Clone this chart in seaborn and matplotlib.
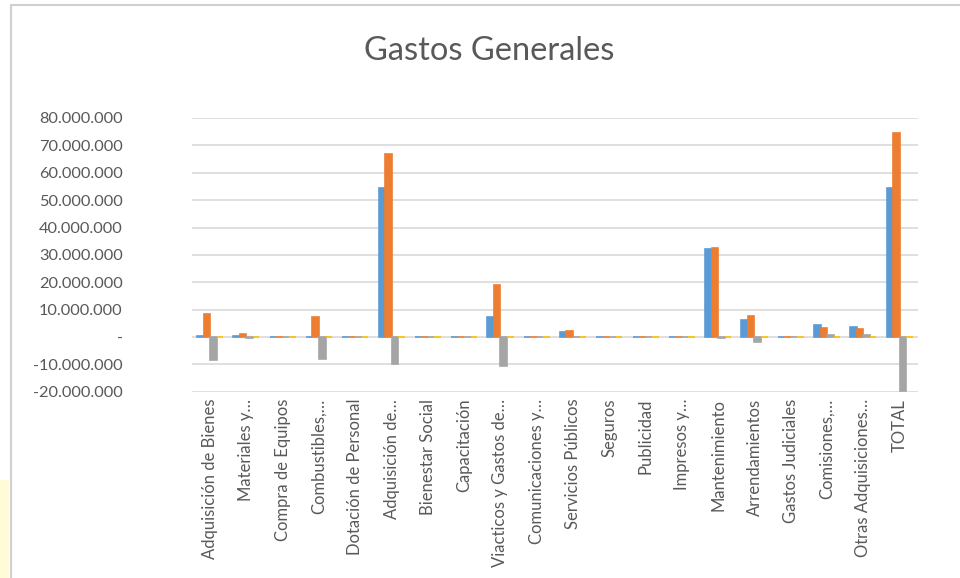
import pandas as pd
import numpy as np
import matplotlib
matplotlib.use('Agg')
import matplotlib.pyplot as plt
import matplotlib.ticker as mticker
from matplotlib.lines import Line2D
from matplotlib.patches import Rectangle
import seaborn as sns

# Categories and the four series (values in pesos)
categorias = ['Adquisición de Bienes', 'Materiales y…', 'Compra de Equipos',
              'Combustibles,…', 'Dotación de Personal', 'Adquisición de…',
              'Bienestar Social', 'Capacitación', 'Viacticos y Gastos de…',
              'Comunicaciones y…', 'Servicios Públicos', 'Seguros', 'Publicidad',
              'Impresos y…', 'Mantenimiento', 'Arrendamientos', 'Gastos Judiciales',
              'Comisiones,…', 'Otras Adquisiciones…', 'TOTAL']

serie_1 = [300000, 500000, 0, 200000, 0, 54500000, 0, 0, 7500000, 0,
           1700000, 0, 0, 0, 32000000, 6200000, 0, 4500000, 3700000, 54500000]
serie_2 = [8300000, 1200000, 0, 7200000, 0, 67000000, 0, 0, 19000000, 0,
           2200000, 0, 0, 0, 32700000, 7700000, 0, 3500000, 2900000, 74500000]
serie_3 = [-8500000, -300000, 0, -8000000, 0, -10000000, 0, 0, -10500000, 0,
           0, 0, 0, 0, -500000, -1800000, 0, 800000, 700000, -19800000]
serie_4 = [0, 0, 0, 0, 0, 0, 0, 0, 0, 0,
           0, 0, 0, 0, 0, 0, 0, 0, 0, 0]

nombres_series = ['Serie 1', 'Serie 2', 'Serie 3', 'Serie 4']
colores = ['#5B9BD5', '#ED7D31', '#A5A5A5', '#FFC000']

# Long table for seaborn
df = pd.DataFrame({'Concepto': categorias * 4,
                   'Serie': np.repeat(nombres_series, len(categorias)),
                   'Valor': serie_1 + serie_2 + serie_3 + serie_4})

sns.set_style('white')
plt.rcParams['font.family'] = ['Lato', 'DejaVu Sans']
texto = '#595959'

fig = plt.figure(figsize=(9.6, 5.78), dpi=100)
ax = fig.add_axes([0.2, 0.322, 0.756, 0.474])

sns.barplot(data=df, x='Concepto', y='Valor', hue='Serie', palette=colores,
            saturation=1, errorbar=None, width=0.72, ax=ax, legend=False,
            zorder=3)

# Zero-valued bars still show as a thin flat cap, like Excel's 3D columns
for p in ax.patches:
    p.set_edgecolor(p.get_facecolor())
    p.set_linewidth(1.2)

ax.set_ylim(-20000000, 80000000)
ax.yaxis.set_major_locator(mticker.MultipleLocator(10000000))

def formato(v, pos):
    if v == 0:
        return '-'
    return f'{v:,.0f}'.replace(',', '.')

ax.yaxis.set_major_formatter(mticker.FuncFormatter(formato))
ax.grid(axis='y', color='#D9D9D9', linewidth=1.2, zorder=0)
ax.set_axisbelow(True)
sns.despine(ax=ax, left=True, bottom=True, top=True, right=True)

ax.set(xlabel=None, ylabel=None)
ax.tick_params(axis='y', labelsize=11.8, colors=texto, length=0, pad=50)
ax.tick_params(axis='x', labelsize=12, colors=texto, length=0, pad=5)
plt.setp(ax.get_xticklabels(), rotation=90)
ax.set_xlim(-0.5, len(categorias) - 0.5)

fig.text(0.51, 0.912, 'Gastos Generales', ha='center', va='center',
         fontsize=23.5, color=texto)

# Chart frame edges and the little highlighted strip at the lower left
fig.add_artist(Line2D([0.011, 0.011], [0, 0.992], transform=fig.transFigure,
                      color='#D0D0D0', linewidth=1.5))
fig.add_artist(Line2D([0.011, 1.0], [0.992, 0.992], transform=fig.transFigure,
                      color='#D0D0D0', linewidth=1.5))
fig.add_artist(Rectangle((0, 0), 0.009, 0.17, transform=fig.transFigure,
                         facecolor='#FFFBD9', edgecolor='none'))

fig.savefig('out.png', dpi=100, facecolor='white')
